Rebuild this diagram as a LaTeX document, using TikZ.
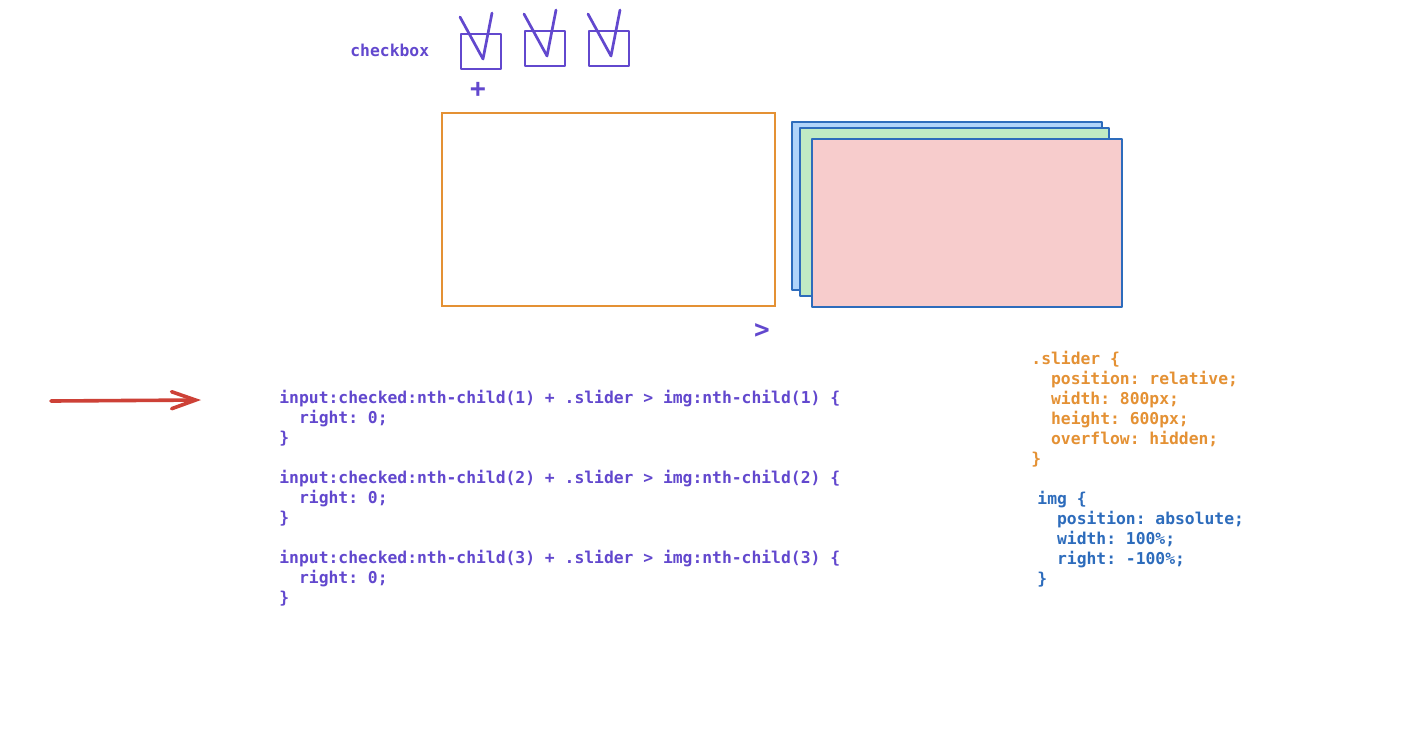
\documentclass[tikz,border=0pt]{standalone}
\usepackage{fontspec}
\setmonofont{DejaVu Sans Mono}
\usetikzlibrary{arrows.meta, positioning, calc}
\usepackage{xcolor}

\definecolor{codepurple}{RGB}{98,72,206}
\definecolor{codeorange}{RGB}{228,145,52}
\definecolor{codeblue}{RGB}{45,108,188}
\definecolor{arrowred}{RGB}{205,65,55}
\definecolor{slideblue}{RGB}{176,212,250}
\definecolor{slidegreen}{RGB}{192,235,196}
\definecolor{slidepink}{RGB}{247,204,204}

\begin{document}
\begin{tikzpicture}[x=0.5pt, y=-0.5pt, >=Latex,
    every node/.style={font=\ttfamily\bfseries\fontsize{8.17}{10}\selectfont, inner sep=0pt},
    code/.style={anchor=north west, align=left},
    tick/.style={draw=codepurple, line width=1.35pt, line join=round, line cap=round},
    slide/.style={draw=codeblue, line width=1.2pt, line join=round}]

    \path[fill=white, use as bounding box] (0,0) rectangle (1422,752);

    % Checkboxes on top
    \node[text=codepurple, anchor=west] (label) at (350,50) {checkbox};
    \foreach \bx/\by/\n in {461/34/1, 525/31/2, 589/31/3} {
        \draw[tick] (\bx,\by) rectangle ++(40,35);
        \draw[tick] (\bx-1,\by-17) -- (\bx+22,\by+25) -- (\bx+31,\by-21);
    }
    \node[text=codepurple, font=\ttfamily\bfseries\fontsize{13}{13}\selectfont] (plus) at (478,90) {+};

    % Slider frame and the stacked images
    \draw[draw=codeorange, line width=1.1pt] (442,113) rectangle (775,306);
    \draw[slide, fill=slideblue] (792,122) rectangle (1102,290);
    \draw[slide, fill=slidegreen] (800,128) rectangle (1109,296);
    \draw[slide, fill=slidepink] (812,139) rectangle (1122,307);
    \node[text=codepurple, font=\ttfamily\bfseries\fontsize{13}{13}\selectfont] (gt) at (762,331) {>};

    % Red pointer
    \coordinate (tail) at (51,401);
    \coordinate (tip) at (201,400);
    \draw[arrowred, line width=1.8pt, line cap=round,
          -{Straight Barb[length=12pt, width=8.5pt, line cap=round]}] (tail) -- (tip);

    % Selector rules
    \foreach \i in {1,2,3} {
        \node[code, text=codepurple] (rule\i) at (279,{390+(\i-1)*80})
            {input:checked:nth-child(\i) + .slider > img:nth-child(\i) \{\\
             ~~right: 0;\\
             \}};
    }

    % CSS on the right
    \node[code, text=codeorange] (slidercss) at (1031,351)
        {.slider \{\\
         ~~position: relative;\\
         ~~width: 800px;\\
         ~~height: 600px;\\
         ~~overflow: hidden;\\
         \}};
    \node[code, text=codeblue] (imgcss) at (1037,491)
        {img \{\\
         ~~position: absolute;\\
         ~~width: 100\%;\\
         ~~right: -100\%;\\
         \}};

\end{tikzpicture}
\end{document}
